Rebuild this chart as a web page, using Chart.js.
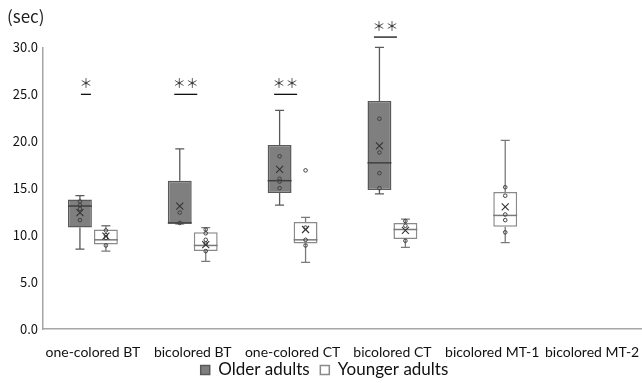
<!DOCTYPE html>
<html>
<head>
<meta charset="utf-8">
<script src="https://cdn.jsdelivr.net/npm/chart.js@4.4.0/dist/chart.umd.min.js"></script>
<style>
  html, body { margin: 0; padding: 0; background: #fff; }
  #wrap { width: 642px; height: 383px; }
</style>
</head>
<body>
<div id="wrap"><canvas id="myChart"></canvas></div>
<script>
// Task completion times (sec)
var categories = ['one-colored BT', 'bicolored BT', 'one-colored CT', 'bicolored CT', 'bicolored MT-1', 'bicolored MT-2'];

// Older adults
var olderMin    = [8.5, 11.2, 13.2, 14.4, null, null];
var olderQ1     = [10.8, 11.2, 14.5, 14.8, null, null];
var olderMedian = [13.1, 11.3, 15.8, 17.7, null, null];
var olderQ3     = [13.8, 15.8, 19.6, 24.3, null, null];
var olderMax    = [14.2, 19.2, 23.3, 30.0, null, null];
var olderMean   = [12.4, 13.1, 17.0, 19.5, null, null];
var olderPoints = [[13.6, 13.2, 12.8, 11.6], [12.4, 11.3], [18.4, 16.0, 15.7, 15.0], [22.4, 18.8, 16.6, 15.0], [], []];
var olderOutliers = [[], [], [], [], [], []];

// Younger adults
var youngerMin    = [8.3, 7.2, 7.1, 8.7, 9.2, null];
var youngerQ1     = [9.0, 8.3, 9.1, 9.6, 10.9, null];
var youngerMedian = [9.5, 8.9, 9.5, 10.6, 12.1, null];
var youngerQ3     = [10.6, 10.3, 11.4, 11.3, 14.6, null];
var youngerMax    = [11.0, 10.8, 11.9, 11.7, 20.1, null];
var youngerMean   = [9.9, 9.0, 10.6, 10.5, 13.0, null];
var youngerPoints = [[10.5, 10.0, 9.7, 8.9], [10.6, 10.2, 9.5, 9.1, 8.3], [10.8, 9.5, 8.9], [11.5, 11.0, 9.4], [15.1, 14.2, 12.2, 11.6, 10.3], []];
var youngerOutliers = [[], [], [16.9], [], [], []];

// significance marks
var sigIndex = [0, 1, 2, 3];
var sigLabel = ['＊', '＊＊', '＊＊', '＊＊'];
var sigLevel = [25, 25, 25, 31.1];

var groups = [
  { label: 'Older adults', min: olderMin, q1: olderQ1, median: olderMedian, q3: olderQ3, max: olderMax,
    mean: olderMean, points: olderPoints, outliers: olderOutliers,
    fill: '#7f7f7f', edge: '#595959', line: '#595959' },
  { label: 'Younger adults', min: youngerMin, q1: youngerQ1, median: youngerMedian, q3: youngerQ3, max: youngerMax,
    mean: youngerMean, points: youngerPoints, outliers: youngerOutliers,
    fill: '#ffffff', edge: '#8a8a8a', line: '#7a7a7a' }
];

function boxData(g) {
  return g.q1.map(function (v, i) {
    return v == null ? null : [v, g.q3[i]];
  });
}

// whiskers, medians, means and data points on top of the floating bars
var boxPlugin = {
  id: 'boxDetails',
  afterDatasetsDraw: function (chart) {
    var ctx = chart.ctx;
    var y = chart.scales.y;
    groups.forEach(function (g, d) {
      var meta = chart.getDatasetMeta(d);
      meta.data.forEach(function (bar, i) {
        if (g.q1[i] == null) return;
        var x = bar.x, half = bar.width / 2;
        ctx.save();
        ctx.strokeStyle = g.line;
        ctx.lineWidth = 1.3;
        ctx.beginPath();
        ctx.moveTo(x, y.getPixelForValue(g.q3[i]));
        ctx.lineTo(x, y.getPixelForValue(g.max[i]));
        ctx.moveTo(x - 4.5, y.getPixelForValue(g.max[i]));
        ctx.lineTo(x + 4.5, y.getPixelForValue(g.max[i]));
        ctx.moveTo(x, y.getPixelForValue(g.q1[i]));
        ctx.lineTo(x, y.getPixelForValue(g.min[i]));
        ctx.moveTo(x - 4.5, y.getPixelForValue(g.min[i]));
        ctx.lineTo(x + 4.5, y.getPixelForValue(g.min[i]));
        ctx.stroke();

        // median
        ctx.lineWidth = 1.5;
        ctx.strokeStyle = d === 0 ? '#3f3f3f' : g.line;
        ctx.beginPath();
        ctx.moveTo(x - half, y.getPixelForValue(g.median[i]));
        ctx.lineTo(x + half, y.getPixelForValue(g.median[i]));
        ctx.stroke();

        // points
        ctx.strokeStyle = '#404040';
        ctx.lineWidth = 1;
        g.points[i].concat(g.outliers[i]).forEach(function (v) {
          ctx.beginPath();
          ctx.arc(x, y.getPixelForValue(v), 1.8, 0, Math.PI * 2);
          ctx.stroke();
        });

        // mean
        var my = y.getPixelForValue(g.mean[i]);
        ctx.strokeStyle = '#333333';
        ctx.lineWidth = 1.1;
        ctx.beginPath();
        ctx.moveTo(x - 3.5, my - 3.5); ctx.lineTo(x + 3.5, my + 3.5);
        ctx.moveTo(x + 3.5, my - 3.5); ctx.lineTo(x - 3.5, my + 3.5);
        ctx.stroke();
        ctx.restore();
      });
    });
  },
  afterDraw: function (chart) {
    var ctx = chart.ctx;
    var y = chart.scales.y;
    var meta = chart.getDatasetMeta(0);
    ctx.save();
    ctx.font = '13px "Noto Sans CJK JP"';
    ctx.fillStyle = '#333333';
    ctx.strokeStyle = '#111111';
    ctx.lineWidth = 1.3;
    ctx.textAlign = 'center';
    ctx.textBaseline = 'alphabetic';
    sigIndex.forEach(function (idx, k) {
      var cx = meta.data[idx].x + 6;
      var ly = y.getPixelForValue(sigLevel[k]);
      var w = ctx.measureText(sigLabel[k]).width - 3;
      ctx.beginPath();
      ctx.moveTo(cx - w / 2, ly);
      ctx.lineTo(cx + w / 2, ly);
      ctx.stroke();
      ctx.fillText(sigLabel[k], cx, ly - 6);
    });
    ctx.restore();
  }
};

var ctx = document.getElementById('myChart').getContext('2d');

var chart = new Chart(ctx, {
  type: 'bar',
  data: {
    labels: categories,
    datasets: groups.map(function (g) {
      return {
        label: g.label,
        data: boxData(g),
        backgroundColor: g.fill,
        borderColor: g.edge,
        borderWidth: 1.5,
        borderSkipped: false,
        categoryPercentage: 0.52,
        barPercentage: 0.92
      };
    })
  },
  options: {
    responsive: true,
    maintainAspectRatio: false,
    animation: false,
    layout: { padding: { left: 7, right: 0, top: 0, bottom: -5.5 } },
    plugins: {
      tooltip: { enabled: false },
      title: {
        display: true,
        text: '(sec)',
        align: 'start',
        color: '#222',
        font: { family: '"Noto Sans CJK JP"', size: 17, weight: 'normal' },
        padding: { top: 6, bottom: 21 }
      },
      legend: {
        position: 'bottom',
        labels: {
          color: '#111',
          boxWidth: 9,
          boxHeight: 9,
          padding: 2,
          font: { family: 'Lato', size: 17 },
          generateLabels: function (chart) {
            var items = Chart.defaults.plugins.legend.labels.generateLabels(chart);
            items[0].text += '  ';
            return items;
          }
        }
      }
    },
    scales: {
      x: {
        grid: { display: false, drawTicks: false },
        border: { display: true, color: '#a6a6a6', width: 1.5 },
        afterFit: function (scale) {
          scale.height = 30.5;
          scale.paddingLeft = 0;
          scale.paddingRight = 0;
        },
        ticks: { color: '#111', padding: 15, maxRotation: 0, autoSkip: false, font: { family: 'Lato', size: 14 } }
      },
      y: {
        min: 0,
        max: 30,
        grid: { display: false, drawTicks: false },
        border: { display: true, color: '#a6a6a6', width: 1.5 },
        afterFit: function (scale) { scale.width = 36; },
        ticks: {
          stepSize: 5,
          padding: 5,
          color: '#111',
          font: { family: '"Noto Sans CJK JP"', size: 13 },
          callback: function (v) { return v.toFixed(1); }
        }
      }
    }
  },
  plugins: [boxPlugin]
});
</script>
</body>
</html>
